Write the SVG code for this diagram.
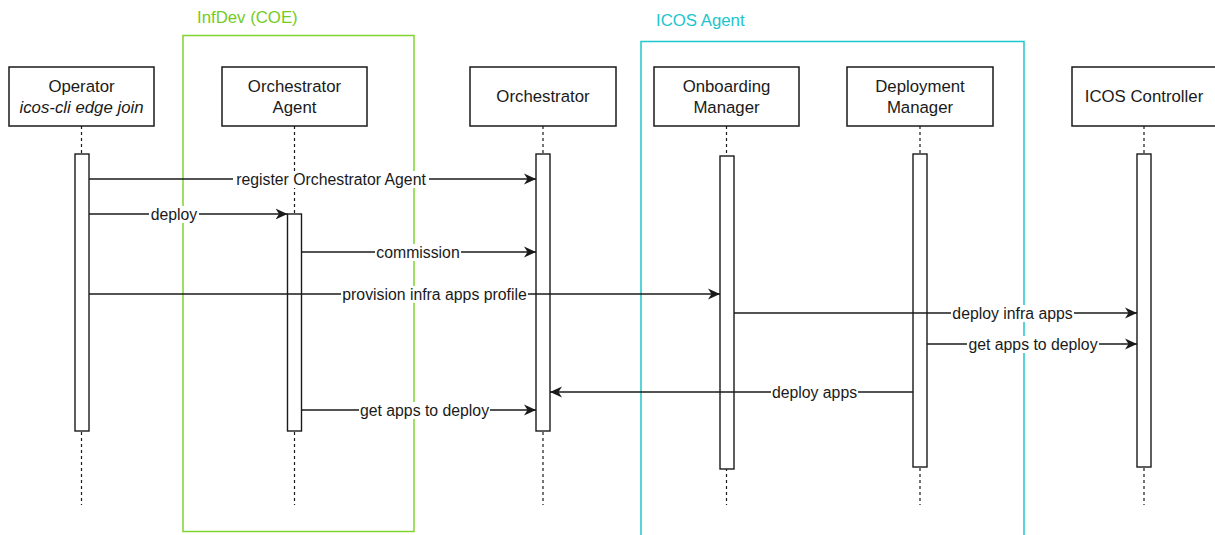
<svg xmlns="http://www.w3.org/2000/svg" width="1215" height="535" viewBox="0 0 1215 535">
<style>
text{font-family:"Liberation Sans",Arial,Helvetica,sans-serif;fill:#1a1a1a}
.nt{font-size:16.8px;text-anchor:middle}
.it{font-style:italic}
.ml{font-size:15.8px;text-anchor:middle}
.box{fill:#fff;stroke:#1a1a1a;stroke-width:1.5}
.act{fill:#fff;stroke:#1a1a1a;stroke-width:1.4}
.life{stroke:#1a1a1a;stroke-width:1.2;stroke-dasharray:3 3;fill:none}
.msg{stroke:#1a1a1a;stroke-width:1.3;fill:none;marker-end:url(#arr)}
.bg{fill:#fff}
.gtitle{font-size:16.8px}
</style>
<defs>
<marker id="arr" markerUnits="userSpaceOnUse" markerWidth="13" markerHeight="13" refX="12" refY="6" orient="auto">
<path d="M0,0.5 L12,6 L0,11.5 L3.5,6 Z" fill="#1a1a1a"/>
</marker>
</defs>
<rect width="1215" height="535" fill="#fff"/>
<g id="frames">
<g id="infdev">
<rect x="183" y="35.5" width="231" height="496" fill="none" stroke="#7fd431" stroke-width="1.5"/>
<text class="gtitle" x="197" y="23" fill="#74cc22" style="fill:#74cc22">InfDev (COE)</text>
</g>
<g id="icosagent">
<rect x="641" y="41.5" width="383" height="500" fill="none" stroke="#1ec8cc" stroke-width="1.5"/>
<text class="gtitle" x="656" y="26" style="fill:#1ec4cc">ICOS Agent</text>
</g>
</g>
<g id="operator">
<line class="life" x1="81.5" y1="126" x2="81.5" y2="505"/>
<rect class="box" x="9" y="67" width="145" height="59"/>
<text class="nt" x="81.5" y="92">Operator</text>
<text class="nt it" x="81.5" y="113">icos-cli edge join</text>
<rect class="act" x="75" y="154" width="14" height="277"/>
</g>
<g id="orchestrator-agent">
<line class="life" x1="294.5" y1="126" x2="294.5" y2="505"/>
<rect class="box" x="222" y="67" width="145" height="59"/>
<text class="nt" x="294.5" y="92">Orchestrator</text>
<text class="nt" x="294.5" y="113">Agent</text>
<rect class="act" x="287.5" y="214" width="14" height="217"/>
</g>
<g id="orchestrator">
<line class="life" x1="543" y1="126" x2="543" y2="505"/>
<rect class="box" x="470" y="67" width="146" height="59"/>
<text class="nt" x="543" y="102">Orchestrator</text>
<rect class="act" x="536" y="154" width="14" height="277"/>
</g>
<g id="onboarding-manager">
<line class="life" x1="726.5" y1="126" x2="726.5" y2="505"/>
<rect class="box" x="654" y="67" width="145" height="59"/>
<text class="nt" x="726.5" y="92">Onboarding</text>
<text class="nt" x="726.5" y="113">Manager</text>
<rect class="act" x="720" y="156" width="14" height="313"/>
</g>
<g id="deployment-manager">
<line class="life" x1="920" y1="126" x2="920" y2="505"/>
<rect class="box" x="847" y="67" width="146" height="59"/>
<text class="nt" x="920" y="92">Deployment</text>
<text class="nt" x="920" y="113">Manager</text>
<rect class="act" x="913" y="154" width="14" height="313"/>
</g>
<g id="icos-controller">
<line class="life" x1="1144" y1="126" x2="1144" y2="505"/>
<rect class="box" x="1072" y="67" width="145" height="59"/>
<text class="nt" x="1144" y="102">ICOS Controller</text>
<rect class="act" x="1137" y="154" width="14" height="313"/>
</g>
<g id="connectors">
<g id="m1">
<line class="msg" x1="89" y1="179" x2="536" y2="179"/>
<rect class="bg" x="233" y="171" width="196" height="17"/>
<text class="ml" x="331" y="185">register Orchestrator Agent</text>
</g>
<g id="m2">
<line class="msg" x1="89" y1="214" x2="287.5" y2="214"/>
<rect class="bg" x="149" y="206" width="50" height="17"/>
<text class="ml" x="174" y="220">deploy</text>
</g>
<g id="m3">
<line class="msg" x1="301.5" y1="252" x2="536" y2="252"/>
<rect class="bg" x="375" y="244" width="86" height="17"/>
<text class="ml" x="418" y="258">commission</text>
</g>
<g id="m4">
<line class="msg" x1="89" y1="294" x2="720" y2="294"/>
<rect class="bg" x="341" y="286" width="187" height="17"/>
<text class="ml" x="434.5" y="300">provision infra apps profile</text>
</g>
<g id="m5">
<line class="msg" x1="734" y1="313" x2="1137" y2="313"/>
<rect class="bg" x="951" y="305" width="123" height="17"/>
<text class="ml" x="1012.5" y="319">deploy infra apps</text>
</g>
<g id="m6">
<line class="msg" x1="927" y1="344" x2="1137" y2="344"/>
<rect class="bg" x="967" y="336" width="132" height="17"/>
<text class="ml" x="1033" y="350">get apps to deploy</text>
</g>
<g id="m7">
<line class="msg" x1="913" y1="392" x2="550" y2="392"/>
<rect class="bg" x="771" y="384" width="87" height="17"/>
<text class="ml" x="814.5" y="398">deploy apps</text>
</g>
<g id="m8">
<line class="msg" x1="301.5" y1="410" x2="536" y2="410"/>
<rect class="bg" x="359" y="402" width="131" height="17"/>
<text class="ml" x="424.5" y="416">get apps to deploy</text>
</g>
</g>
</svg>
